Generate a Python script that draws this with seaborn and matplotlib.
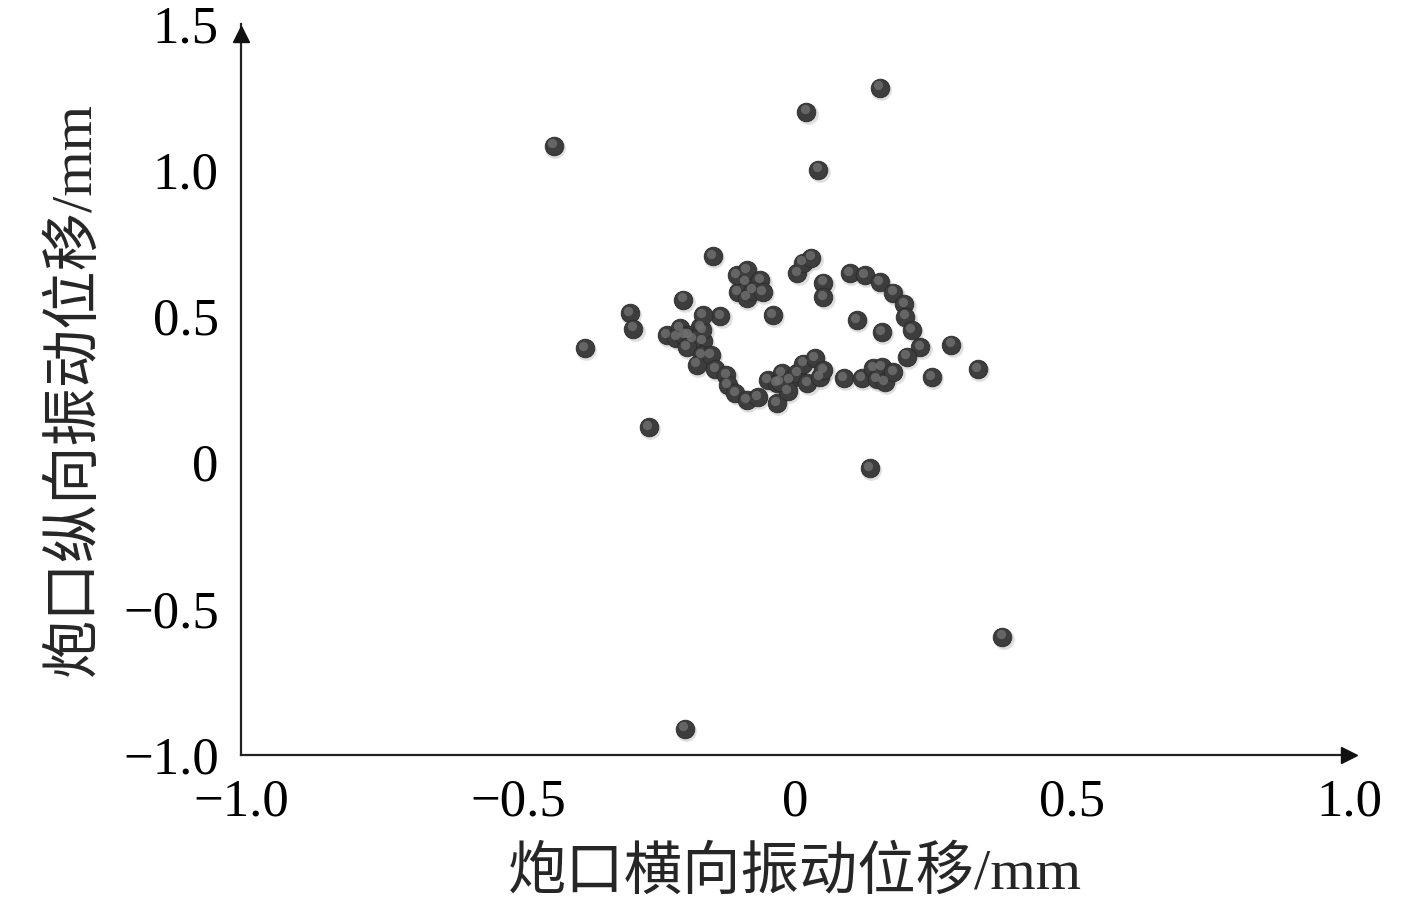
import numpy as np
import pandas as pd
import matplotlib
matplotlib.use("Agg")
import matplotlib.pyplot as plt
import matplotlib.transforms as mtransforms
import seaborn as sns

# muzzle vibration displacement (mm)
x_disp = [-0.435, 0.020, 0.153, 0.042, -0.379, -0.264, 0.135, 0.374, -0.199,
          -0.298, -0.292, -0.202, -0.231, -0.208, -0.193, -0.171, -0.166, -0.167,
          -0.184, -0.214, -0.200, -0.195, -0.168, -0.177, -0.135, -0.166, -0.152,
          -0.090, -0.103, -0.105, -0.087, -0.063, -0.040, -0.087, -0.076, -0.058,
          -0.144, -0.124, -0.121, -0.108, -0.087, -0.067, -0.049, -0.033, -0.033,
          -0.024, -0.009, -0.013, -0.027, 0.004, 0.022, 0.015, 0.036, 0.045,
          0.051, 0.088, 0.121, 0.141, 0.148, 0.157, 0.162, 0.177, -0.148,
          0.004, 0.014, 0.029, 0.051, 0.051,
          0.099, 0.126, 0.153, 0.177, 0.197, 0.199, 0.211, 0.226, 0.202,
          0.112, 0.157, 0.282, 0.330, 0.247]
y_disp = [1.082, 1.199, 1.281, 1.000, 0.390, 0.120, -0.021, -0.596, -0.911,
          0.510, 0.456, 0.555, 0.435, 0.459, 0.435, 0.462, 0.414, 0.452,
          0.421, 0.425, 0.432, 0.394, 0.366, 0.334, 0.500, 0.503, 0.366,
          0.613, 0.582, 0.640, 0.657, 0.623, 0.503, 0.562, 0.586, 0.582,
          0.318, 0.298, 0.264, 0.236, 0.212, 0.223, 0.281, 0.271, 0.202,
          0.305, 0.281, 0.243, 0.274, 0.305, 0.271, 0.336, 0.356, 0.291,
          0.315, 0.288, 0.288, 0.322, 0.284, 0.325, 0.274, 0.308, 0.705,
          0.647, 0.682, 0.700, 0.613, 0.565,
          0.647, 0.640, 0.616, 0.579, 0.541, 0.497, 0.452, 0.394, 0.360,
          0.486, 0.445, 0.401, 0.318, 0.291]

df = pd.DataFrame({"x": x_disp, "y": y_disp})

x_ticks = [-1.0, -0.5, 0, 0.5, 1.0]
x_tick_labels = ["\u22121.0", "\u22120.5", "0", "0.5", "1.0"]
y_ticks = [-1.0, -0.5, 0, 0.5, 1.0, 1.5]
y_tick_labels = ["\u22121.0", "\u22120.5", "0", "0.5", "1.0", "1.5"]

sns.set_style("white")
plt.rcParams['font.family'] = ['Liberation Serif', 'Noto Sans CJK SC']

fig = plt.figure(figsize=(14.17, 9.05), dpi=100)
ax = fig.add_axes([0.170, 0.166, 0.782, 0.808])

# soft shadow, base sphere, then a highlight to fake the 3D balls
shadow = mtransforms.offset_copy(ax.transData, fig=fig, x=1.5, y=-2.0, units='dots')
ax.scatter(df["x"], df["y"], s=220, color="#b8b8b8", alpha=0.45, linewidths=0,
           transform=shadow, zorder=2)
sns.scatterplot(data=df, x="x", y="y", ax=ax, s=180, color="#3d3d3d",
                edgecolor="#2a2a2a", linewidth=0.6, zorder=3, legend=False)
hi = mtransforms.offset_copy(ax.transData, fig=fig, x=-1.5, y=2.5, units='dots')
ax.scatter(df["x"], df["y"], s=45, color="#707070", alpha=0.8, linewidths=0,
           transform=hi, zorder=4)

ax.set_xlim(-1.0, 1.0)
ax.set_ylim(-1.0, 1.5)
ax.set_xticks(x_ticks)
ax.set_xticklabels(x_tick_labels)
ax.set_yticks(y_ticks)
ax.set_yticklabels(y_tick_labels)
ax.tick_params(direction='in', length=5, width=1, colors='#222222',
               labelsize=38, labelcolor='black')
ax.tick_params(axis='y', pad=16)
ax.tick_params(axis='x', pad=17)

for side in ["top", "right"]:
    ax.spines[side].set_visible(False)
for side in ["left", "bottom"]:
    ax.spines[side].set_color("#222222")
    ax.spines[side].set_linewidth(1.6)

# arrow heads on the axes
ax.plot(1, 0, ">", color="#111111", markersize=11, transform=ax.transAxes,
        clip_on=False, zorder=5)
ax.plot(0, 0.985, "^", color="#111111", markersize=11, transform=ax.transAxes,
        clip_on=False, zorder=5)

ax.set_xlabel("炮口横向振动位移/mm", fontsize=42, labelpad=14)
ax.set_ylabel("炮口纵向振动位移/mm", fontsize=42, labelpad=15)

fig.savefig("out.png", dpi=100)
